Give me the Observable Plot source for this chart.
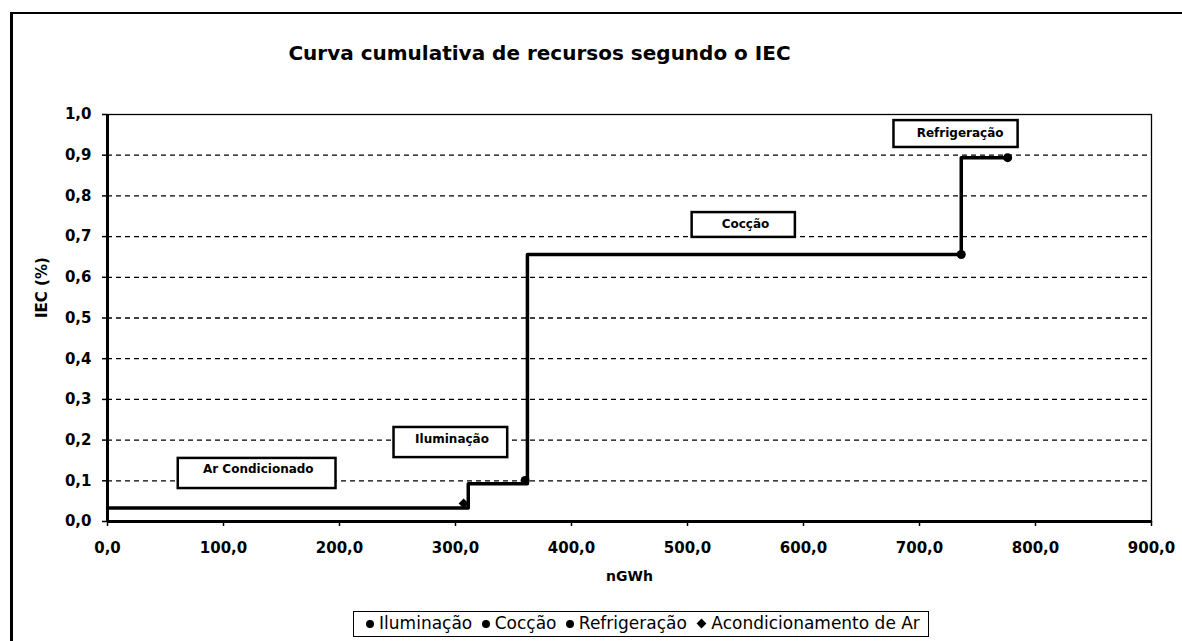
<!DOCTYPE html>
<html>
<head>
<meta charset="utf-8">
<script src="https://cdn.jsdelivr.net/npm/d3@7"></script>
<script src="https://cdn.jsdelivr.net/npm/@observablehq/plot@0.6"></script>
<style>
  html, body { margin: 0; padding: 0; background: #fff; }
  #wrap { position: relative; width: 1182px; height: 641px; overflow: hidden; font-family: "DejaVu Sans", sans-serif; }
  #outer { position: absolute; left: 10px; top: 12px; width: 1180px; height: 640px; border-left: 3px solid #000; border-top: 2px solid #000; }
  #chart { position: absolute; left: 0; top: 0; }
  #title { position: absolute; left: 0; width: 1079px; top: 41px; text-align: center; font-weight: bold; font-size: 20px; color: #000; }
  #legend { position: absolute; left: 353px; top: 611px; width: 576px; height: 26px; border: 1.5px solid #000; box-sizing: border-box;
            font-size: 17px; line-height: 23px; white-space: nowrap; text-align: center; color: #000; }
  .dot { display: inline-block; width: 8px; height: 8px; border-radius: 50%; background: #000; margin: 0 5px 1px 4px; vertical-align: middle; }
  .dia { display: inline-block; width: 7px; height: 7px; background: #000; transform: rotate(45deg); margin: 0 6px 1px 6px; vertical-align: middle; }
</style>
</head>
<body>
<div id="wrap">
  <div id="outer"></div>
  <div id="chart"></div>
  <div id="title">Curva cumulativa de recursos segundo o IEC</div>
  <div id="legend"><span class="dot"></span>Iluminação <span class="dot"></span>Cocção <span class="dot"></span>Refrigeração <span class="dia"></span>Acondicionamento de Ar</div>
</div>
<script>
// ---- data ----
// cumulative curve: step starts (nGWh) and cumulative IEC level
const stepX = [0, 311, 362, 736, 776];
const stepY = [0.033, 0.093, 0.656, 0.894, 0.894];
// series markers (end of each block)
const markerNames = ["Acondicionamento de Ar", "Iluminação", "Cocção", "Refrigeração"];
const markerX = [307, 360, 736, 776];
const markerY = [0.044, 0.101, 0.656, 0.894];
// annotation boxes
const labelText = ["Ar Condicionado", "Iluminação", "Cocção", "Refrigeração"];
const labelX = [130, 297, 550, 735];
const labelY = [0.128, 0.202, 0.730, 0.954];
const boxX1 = [61, 247, 504, 678];
const boxX2 = [197, 345, 593, 785];
const boxY1 = [0.081, 0.157, 0.698, 0.919];
const boxY2 = [0.155, 0.231, 0.759, 0.985];
// axis ticks
const xTicks = [0, 100, 200, 300, 400, 500, 600, 700, 800, 900];
const yTicks = [0, 0.1, 0.2, 0.3, 0.4, 0.5, 0.6, 0.7, 0.8, 0.9, 1.0];
const gridTicks = [0.1, 0.2, 0.3, 0.4, 0.5, 0.6, 0.7, 0.8, 0.9];

const steps = stepX.map((x, i) => ({x, y: stepY[i]}));
const markers = markerX.map((x, i) => ({name: markerNames[i], x, y: markerY[i]}));
const labels = labelText.map((t, i) => ({t, x: labelX[i], y: labelY[i], x1: boxX1[i], x2: boxX2[i], y1: boxY1[i], y2: boxY2[i]}));

const fmt = d => d.toFixed(1).replace(".", ",");

const chart = Plot.plot({
  width: 1182,
  height: 600,
  marginLeft: 107,
  marginRight: 31,
  marginTop: 114,
  marginBottom: 79,
  style: {fontFamily: "DejaVu Sans, sans-serif", color: "#000", background: "transparent"},
  x: {domain: [0, 900]},
  y: {domain: [0, 1]},
  marks: [
    Plot.ruleY(gridTicks, {stroke: "#000", strokeWidth: 1.3, strokeDasharray: "5,4"}),
    Plot.frame({stroke: "#000", strokeWidth: 1.3}),
    Plot.axisX({ticks: xTicks, tickFormat: fmt, tickSize: 5, tickPadding: 16, fontSize: 15, fontWeight: "bold", label: null, strokeWidth: 1.5}),
    Plot.axisY({ticks: yTicks, tickFormat: fmt, tickSize: 5, tickPadding: 11, fontSize: 15, fontWeight: "bold", label: null, strokeWidth: 1.5}),
    Plot.ruleX([0], {stroke: "#000", strokeWidth: 3}),
    Plot.ruleY([0], {stroke: "#000", strokeWidth: 3}),
    Plot.line(steps, {x: "x", y: "y", curve: "step-after", stroke: "#000", strokeWidth: 3.5}),
    Plot.dot(markers, {x: "x", y: "y", r: 4.5, fill: "#000", symbol: d => d.name === "Acondicionamento de Ar" ? "diamond2" : "circle"}),
    Plot.rect(labels, {x1: "x1", x2: "x2", y1: "y1", y2: "y2", fill: "#fff", stroke: "#000", strokeWidth: 2.5}),
    Plot.text(labels, {x: "x", y: "y", text: "t", fontSize: 12, fontWeight: "bold", fill: "#000"}),
    Plot.text(["IEC (%)"], {frameAnchor: "left", dx: -65, rotate: -90, fontSize: 15, fontWeight: "bold", fill: "#000"}),
    Plot.text(["nGWh"], {frameAnchor: "bottom", dy: 59, fontSize: 14, fontWeight: "bold", fill: "#000"})
  ]
});
document.getElementById("chart").appendChild(chart);
</script>
</body>
</html>
